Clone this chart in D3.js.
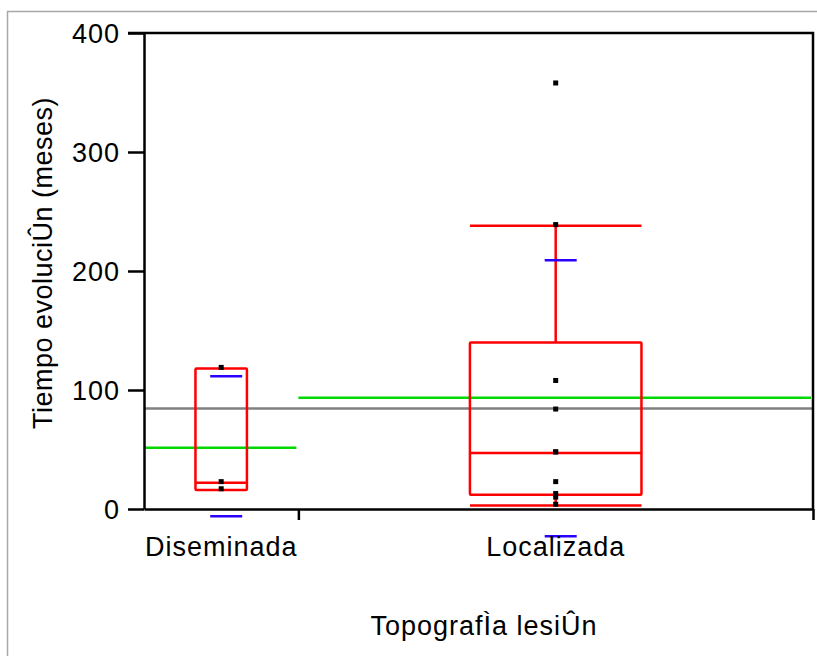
<!DOCTYPE html>
<html>
<head>
<meta charset="utf-8">
<script src="https://cdn.jsdelivr.net/npm/d3@7"></script>
<style>
  html, body { margin: 0; padding: 0; background: #ffffff; }
  svg { display: block; }
  text { font-family: "Liberation Sans", Arial, sans-serif; fill: #000; }
</style>
</head>
<body>
<div id="chart"></div>
<script>
// ---------- data ----------
const categories  = ["Diseminada", "Localizada"];
const counts      = [3, 10];
const q1          = [16, 12];
const medians     = [22, 47];
const q3          = [118, 140];
const whiskerLow  = [16, 3];
const whiskerHigh = [118, 238];
const means       = [51.5, 93.5];
const sdUpper     = [111.5, 209];
const sdLower     = [-6, -23];
const grandMean   = 84.5;
const pointsDiseminada = [17, 23, 119];
const pointsLocalizada = [4, 10, 13, 23, 48, 48, 84, 108, 239, 358];
const points      = [pointsDiseminada, pointsLocalizada];
const yTicks      = [0, 100, 200, 300, 400];
const yTitle      = "Tiempo evoluciÛn (meses)";
const xTitle      = "TopografÌa lesiÛn";

// ---------- layout ----------
const W = 817, H = 656;
const plot = { left: 144, right: 813, top: 33, bottom: 509 };
const LW = 2.5;

const svg = d3.select("#chart").append("svg")
  .attr("width", W).attr("height", H);

svg.append("rect").attr("width", W).attr("height", H).attr("fill", "#fff");

// outer gray frame (top and left edges visible)
svg.append("path")
  .attr("d", `M7.5,${H} L7.5,11.5 L${W},11.5`)
  .attr("fill", "none").attr("stroke", "#a8a8a8").attr("stroke-width", 1.5);

const total = d3.sum(counts);
const cum = [0];
counts.forEach((c, i) => cum.push(cum[i] + c));

const x = d3.scaleLinear().domain([0, total]).range([plot.left, plot.right]);
const y = d3.scaleLinear().domain([0, 400]).range([plot.bottom, plot.top]);

const cats = categories.map((name, i) => {
  const x0 = x(cum[i]), x1 = x(cum[i + 1]);
  const w = x1 - x0;
  return { name, i, x0, x1, c: (x0 + x1) / 2, bl: (x0 + x1) / 2 - w / 6, br: (x0 + x1) / 2 + w / 6 };
});

// ---------- lines: grand mean, group means ----------
const g = svg.append("g");

g.append("line")
  .attr("x1", plot.left).attr("x2", plot.right)
  .attr("y1", y(grandMean)).attr("y2", y(grandMean))
  .attr("stroke", "#808080").attr("stroke-width", LW);

g.selectAll(".meanline").data(cats).join("line")
  .attr("class", "meanline")
  .attr("x1", d => d.x0).attr("x2", d => d.x1 - 2)
  .attr("y1", d => y(means[d.i])).attr("y2", d => y(means[d.i]))
  .attr("stroke", "#00d800").attr("stroke-width", LW);

// ---------- box plots ----------
const red = "#ff0000";
cats.forEach(d => {
  const i = d.i;
  // whiskers
  if (whiskerHigh[i] > q3[i]) {
    g.append("line").attr("x1", d.c).attr("x2", d.c)
      .attr("y1", y(q3[i])).attr("y2", y(whiskerHigh[i]))
      .attr("stroke", red).attr("stroke-width", LW);
    g.append("line").attr("x1", d.bl).attr("x2", d.br)
      .attr("y1", y(whiskerHigh[i])).attr("y2", y(whiskerHigh[i]))
      .attr("stroke", red).attr("stroke-width", LW);
  }
  if (whiskerLow[i] < q1[i]) {
    g.append("line").attr("x1", d.c).attr("x2", d.c)
      .attr("y1", y(q1[i])).attr("y2", y(whiskerLow[i]))
      .attr("stroke", red).attr("stroke-width", LW);
    g.append("line").attr("x1", d.bl).attr("x2", d.br)
      .attr("y1", y(whiskerLow[i])).attr("y2", y(whiskerLow[i]))
      .attr("stroke", red).attr("stroke-width", LW);
  }
  // box
  g.append("rect")
    .attr("x", d.bl).attr("y", y(q3[i]))
    .attr("width", d.br - d.bl).attr("height", y(q1[i]) - y(q3[i]))
    .attr("rx", 1).attr("fill", "none")
    .attr("stroke", red).attr("stroke-width", LW);
  // median
  g.append("line").attr("x1", d.bl).attr("x2", d.br)
    .attr("y1", y(medians[i])).attr("y2", y(medians[i]))
    .attr("stroke", red).attr("stroke-width", LW);
  // std dev lines (blue)
  [sdUpper[i], sdLower[i]].forEach(v => {
    g.append("line").attr("x1", d.c - 11).attr("x2", d.c + 21)
      .attr("y1", y(v)).attr("y2", y(v))
      .attr("stroke", "#2a00ff").attr("stroke-width", LW);
  });
  // points
  g.selectAll(null).data(points[i]).join("rect")
    .attr("x", d.c - 2.5).attr("y", v => y(v) - 2.5)
    .attr("width", 5).attr("height", 5)
    .attr("fill", "#000");
});

// ---------- axes ----------
const yAxis = d3.axisLeft(y).tickValues(yTicks).tickSize(16).tickPadding(8).tickSizeOuter(0);
const ya = svg.append("g").attr("transform", `translate(${plot.left},0)`).call(yAxis);
ya.select(".domain").attr("stroke", "#000").attr("stroke-width", 2.5);
ya.selectAll(".tick line").attr("stroke", "#000").attr("stroke-width", 2.5);
ya.selectAll(".tick text")
  .style("font-family", "'Liberation Sans', Arial, sans-serif")
  .style("font-size", "27px").style("letter-spacing", "1px")
  .attr("dy", "0.36em");

const xAxis = d3.axisBottom(x).tickValues(cum.slice(1)).tickSize(11).tickFormat("").tickSizeOuter(0);
const xa = svg.append("g").attr("transform", `translate(0,${plot.bottom})`).call(xAxis);
xa.select(".domain").attr("stroke", "#000").attr("stroke-width", 2.5);
xa.selectAll(".tick line").attr("stroke", "#000").attr("stroke-width", 2.5);

// top and right frame of plot
svg.append("path")
  .attr("d", `M${plot.left - 16},${plot.top} L${plot.right},${plot.top} L${plot.right},${plot.bottom}`)
  .attr("fill", "none").attr("stroke", "#000").attr("stroke-width", 2.5);

// category labels
svg.selectAll(".catlabel").data(cats).join("text")
  .attr("class", "catlabel")
  .attr("x", d => d.c).attr("y", 556)
  .attr("text-anchor", "middle")
  .style("font-size", "27px").style("letter-spacing", "1px")
  .text(d => d.name);

// axis titles
svg.append("text")
  .attr("x", 484).attr("y", 635)
  .attr("text-anchor", "middle")
  .style("font-size", "27px").style("letter-spacing", "1px")
  .text(xTitle);

svg.append("text")
  .attr("transform", "translate(52,263) rotate(-90)")
  .attr("text-anchor", "middle")
  .style("font-size", "27px").style("letter-spacing", "0.5px")
  .text(yTitle);
</script>
</body>
</html>
